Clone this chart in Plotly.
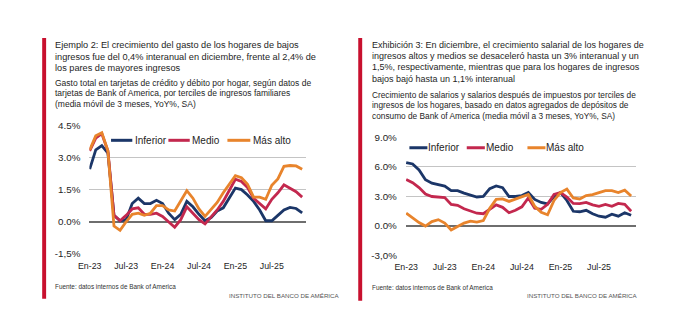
import plotly.graph_objects as go
import pandas as pd

# ---------------- data ----------------
months = [d.strftime("%Y-%m") for d in pd.date_range("2023-01-01", periods=36, freq="MS")]
tick_months = [months[i] for i in range(0, 36, 6)]
tick_labels = ["En-23", "Jul-23", "En-24", "Jul-24", "En-25", "Jul-25"]
series_names = ["Inferior", "Medio", "Más alto"]

# Ejemplo 2: gasto con tarjetas (YoY %, media móvil 3m)
gasto_inferior = [2.45, 3.35, 3.55, 3.2, 0.3, 0.05, 0.1, 0.85, 1.1, 0.85, 0.85, 1.0,
                  0.85, 0.4, 0.1, 0.35, 0.95, 0.7, 0.35, 0.05, 0.2, 0.5, 0.65, 1.1,
                  1.57, 1.5, 1.25, 0.95, 0.55, 0.05, 0.05, 0.3, 0.55, 0.67, 0.62, 0.42]
gasto_medio = [3.3, 3.9, 4.1, 3.3, 0.3, 0.05, 0.3, 0.6, 0.65, 0.35, 0.35, 0.4,
               0.25, 0.0, -0.25, 0.1, 0.7, 0.4, 0.1, -0.1, 0.2, 0.55, 0.95, 1.5,
               1.98, 1.88, 1.6, 1.1, 0.85, 0.6, 1.05, 1.35, 1.72, 1.55, 1.4, 1.15]
gasto_alto = [3.35, 4.0, 4.15, 3.3, -0.2, -0.4, 0.0, 0.35, 0.4, 0.3, 0.4, 0.75,
              0.75, 0.55, 0.5, 0.95, 1.45, 1.1, 0.6, 0.25, 0.55, 0.9, 1.35, 1.75,
              2.15, 2.05, 1.75, 1.15, 1.15, 1.05, 1.7, 2.0, 2.58, 2.62, 2.6, 2.45]

# Exhibición 3: crecimiento salarial (YoY %, media móvil 3m)
sal_inferior = [6.45, 6.3, 5.7, 4.7, 4.35, 4.2, 4.05, 3.6, 3.6, 3.35, 3.15, 2.95,
                3.0, 3.8, 4.08, 3.9, 3.0, 3.0, 3.1, 3.4, 2.7, 2.4, 2.25, 3.0,
                3.4, 2.6, 1.5, 1.45, 1.6, 1.25, 1.0, 0.9, 1.2, 1.0, 1.35, 1.1]
sal_medio = [4.73, 4.4, 3.9, 3.25, 3.0, 2.95, 2.9, 2.2, 2.1, 1.75, 1.5, 1.3,
             1.25, 1.7, 2.15, 1.9, 1.35, 1.6, 1.95, 2.85, 1.8, 1.7, 2.2, 3.2,
             3.4, 2.95, 2.3, 2.28, 2.4, 2.15, 2.0, 2.2, 2.0, 2.3, 2.2, 1.5]
sal_alto = [1.3, 0.85, 0.35, 0.0, 0.45, 0.65, 0.3, -0.4, -0.05, 0.3, 0.5, 0.4,
            0.55, 1.8, 2.7, 2.75, 2.5, 2.75, 3.0, 3.2, 2.0, 1.4, 1.15, 2.6,
            3.4, 3.75, 2.85, 2.75, 3.1, 3.2, 3.4, 3.6, 3.6, 3.4, 3.65, 3.05]

left_yticks = [-1.5, 0.0, 1.5, 3.0, 4.5]
left_yticktext = ["-1,5%", "0.0%", "1.5%", "3.0%", "4.5%"]
right_yticks = [-3.0, 0.0, 3.0, 6.0, 9.0]
right_yticktext = ["-3,0%", "0.0%", "3.0%", "6.0%", "9.0%"]

left_title = ["Ejemplo 2: El crecimiento del gasto de los hogares de bajos",
              "ingresos fue del 0,4% interanual en diciembre, frente al 2,4% de",
              "los pares de mayores ingresos"]
left_sub = ["Gasto total en tarjetas de crédito y débito por hogar, según datos de",
            "tarjetas de Bank of America, por terciles de ingresos familiares",
            "(media móvil de 3 meses, YoY%, SA)"]
right_title = ["Exhibición 3: En diciembre, el crecimiento salarial de los hogares de",
               "ingresos altos y medios se desaceleró hasta un 3% interanual y un",
               "1,5%, respectivamente, mientras que para los hogares de ingresos",
               "bajos bajó hasta un 1,1% interanual"]
right_sub = ["Crecimiento de salarios y salarios después de impuestos por terciles de",
             "ingresos de los hogares, basado en datos agregados de depósitos de",
             "consumo de Bank of America (media móvil a 3 meses, YoY%, SA)"]
source_text = "Fuente: datos internos de Bank of America"
brand_text = "INSTITUTO DEL BANCO DE AMÉRICA"

# ---------------- style ----------------
W, H = 675, 326
COLORS = ["#1B3668", "#C3284E", "#E8842C"]
RED = "#C8102E"
FONT = "'Liberation Sans', Arial, sans-serif"
TXT = "#1E1E1E"


def px(x):
    return x / W


def py(y):
    return 1 - y / H


fig = go.Figure()
for name, vals, col in zip(series_names, [gasto_inferior, gasto_medio, gasto_alto], COLORS):
    fig.add_trace(go.Scatter(x=months, y=vals, name=name, mode="lines",
                             line=dict(color=col, width=2.8), xaxis="x", yaxis="y",
                             showlegend=False))
for name, vals, col in zip(series_names, [sal_inferior, sal_medio, sal_alto], COLORS):
    fig.add_trace(go.Scatter(x=months, y=vals, name=name, mode="lines",
                             line=dict(color=col, width=2.8), xaxis="x2", yaxis="y2",
                             showlegend=False))

xcommon = dict(type="category", showgrid=False, zeroline=False, showline=False,
               ticks="", tickmode="array", tickvals=tick_months, ticktext=tick_labels,
               tickfont=dict(family=FONT, size=8.8, color=TXT), ticklabelstandoff=5)
ycommon = dict(showgrid=True, gridcolor="#C4C4C4", gridwidth=1, zeroline=True,
               zerolinecolor="#6E6E6E", zerolinewidth=1.6, showline=False, ticks="",
               tickfont=dict(family=FONT, size=9.8, color=TXT), ticklabelstandoff=8,
               tickmode="array")

fig.update_layout(
    width=W, height=H, margin=dict(l=0, r=0, t=0, b=0),
    paper_bgcolor="white", plot_bgcolor="white", showlegend=False,
    xaxis=dict(xcommon, domain=[px(79.7), px(300)], range=[-0.05, 35.65], anchor="y"),
    yaxis=dict(ycommon, domain=[py(256.7), py(123.3)], range=[-1.5, 4.5],
               tickvals=left_yticks, ticktext=left_yticktext, anchor="x"),
    xaxis2=dict(xcommon, domain=[px(401.4), px(635)], range=[-0.05, 35.7], anchor="y2"),
    yaxis2=dict(ycommon, domain=[py(258.3), py(136)], range=[-3, 9],
                tickvals=right_yticks, ticktext=right_yticktext, anchor="x2"),
)

shapes = []
annotations = []

# red accent bars
shapes.append(dict(type="rect", xref="paper", yref="paper", x0=px(31.7), x1=px(35.7),
                   y0=py(303), y1=py(33), fillcolor=RED, line=dict(width=0)))
shapes.append(dict(type="rect", xref="paper", yref="paper", x0=px(353), x1=px(357),
                   y0=py(305), y1=py(33), fillcolor=RED, line=dict(width=0)))


def text(x, y, s, size, color=TXT, anchor="left"):
    annotations.append(dict(xref="paper", yref="paper", x=px(x), y=py(y), text=s,
                            showarrow=False, xanchor=anchor, yanchor="middle",
                            borderpad=0,
                            font=dict(family=FONT, size=size, color=color)))


for i, line in enumerate(left_title):
    text(44, 40.7 + 11.7 * i, line, 9.2)
for i, line in enumerate(left_sub):
    text(44, 79.3 + 10.9 * i, line, 8.5)
for i, line in enumerate(right_title):
    text(366, 40.7 + 11.45 * i, line, 9.0)
for i, line in enumerate(right_sub):
    text(366, 91.7 + 11.2 * i, line, 8.3)

text(44, 290.7, source_text, 6.4, "#333333")
text(366, 291.7, source_text, 6.4, "#333333")
text(335, 300, brand_text, 6.2, "#555555", anchor="right")
text(638, 300, brand_text, 6.2, "#555555", anchor="right")

# legends (key line + label)
left_leg = [(101.7, 123.3, 125), (160, 181.7, 182.5), (220, 243.3, 245.5)]
right_leg = [(405, 423.3, 423), (463.3, 481.7, 481.5), (525, 543.3, 543)]
for (ly, legs) in [(139, left_leg), (146.7, right_leg)]:
    for (x0, x1, tx), name, col in zip(legs, series_names, COLORS):
        shapes.append(dict(type="line", xref="paper", yref="paper", x0=px(x0), x1=px(x1),
                           y0=py(ly), y1=py(ly), line=dict(color=col, width=3)))
        text(tx, ly, name, 10)

fig.update_layout(shapes=shapes, annotations=annotations)
fig.write_html("out.html", post_script="document.body.style.margin='0';")
